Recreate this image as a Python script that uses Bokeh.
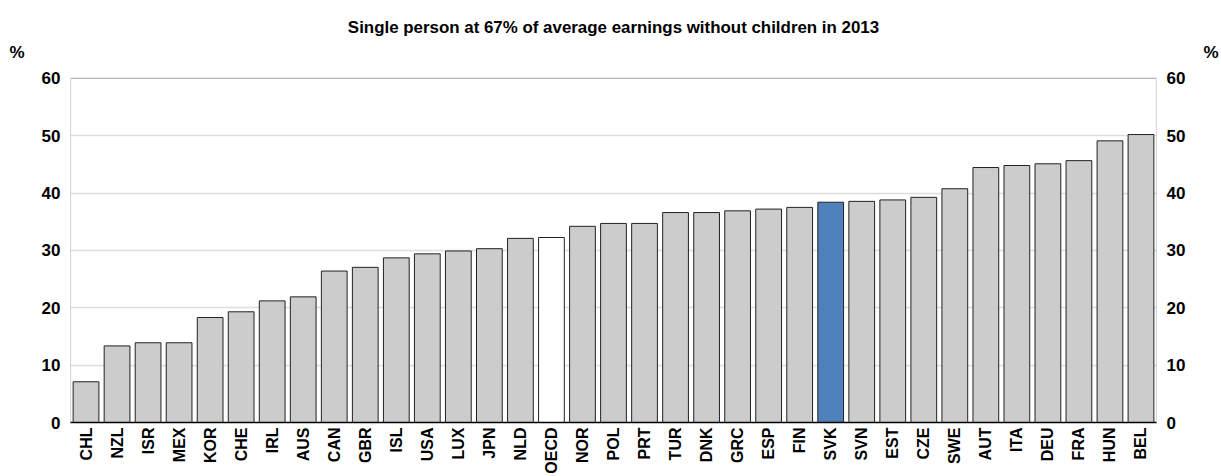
import math
from bokeh.plotting import figure
from bokeh.models import (ColumnDataSource, FactorRange, Range1d, LinearAxis,
                          FixedTicker, BoxAnnotation, CustomJSTickFormatter)
from bokeh.embed import file_html
from bokeh.resources import INLINE

countries = ["CHL", "NZL", "ISR", "MEX", "KOR", "CHE", "IRL", "AUS", "CAN", "GBR",
             "ISL", "USA", "LUX", "JPN", "NLD", "OECD", "NOR", "POL", "PRT", "TUR",
             "DNK", "GRC", "ESP", "FIN", "SVK", "SVN", "EST", "CZE", "SWE", "AUT",
             "ITA", "DEU", "FRA", "HUN", "BEL"]
values = [7.1, 13.35, 13.9, 13.9, 18.3, 19.3, 21.2, 21.9, 26.4, 27.05,
          28.7, 29.4, 29.9, 30.3, 32.1, 32.25, 34.2, 34.7, 34.7, 36.6,
          36.6, 36.9, 37.2, 37.5, 38.4, 38.55, 38.8, 39.25, 40.75, 44.45,
          44.8, 45.1, 45.65, 49.1, 50.2]
highlight = {"SVK": "#4F81BD", "OECD": "#FFFFFF"}
y_ticks = [0, 10, 20, 30, 40, 50, 60]
title_text = "Single person at 67% of average earnings without children in 2013"
unit_label = "%"

FONT = "Liberation Sans"
Y_MAX = 60
# frame pixel geometry
BOX_H = 346            # pixels between 0 and 60
EXTRA_TOP = 34         # frame extends above the 60 line to hold the "%" labels
UNIT_Y = Y_MAX + 26 * Y_MAX / BOX_H     # position of the "%" labels
Y_TOP = Y_MAX + EXTRA_TOP * Y_MAX / BOX_H

colors = [highlight.get(c, "#CCCCCC") for c in countries]
src = ColumnDataSource(dict(x=countries, top=values, color=colors))

p = figure(width=1221, height=476, output_backend="svg", toolbar_location=None,
           x_range=FactorRange(*countries, range_padding=0),
           y_range=Range1d(0, Y_TOP),
           min_border_left=70, min_border_right=59, min_border_top=44,
           min_border_bottom=52)

p.title.text = title_text
p.title.align = "center"
p.title.text_font = FONT
p.title.text_font_size = "16.9px"
p.title.text_font_style = "bold"
p.title.text_color = "black"
p.title.standoff = 16

p.outline_line_color = None
p.xgrid.grid_line_color = None
p.ygrid.grid_line_color = "#DDDDDD"
p.ygrid.grid_line_width = 1.5
p.ygrid.ticker = FixedTicker(ticks=y_ticks[1:-1])

# plot box from 0 to 60
p.add_layout(BoxAnnotation(bottom=0, top=Y_MAX, fill_alpha=0, fill_color=None,
                           line_color="black", line_width=1.2, level="underlay"))

p.vbar(x="x", top="top", width=0.83, source=src, fill_color="color",
       line_color="#222222", line_width=1)

def style_y(ax, standoff, size):
    ax.axis_line_color = None
    ax.major_tick_line_color = None
    ax.minor_tick_line_color = None
    ax.major_tick_out = 0
    ax.major_tick_in = 0
    ax.minor_tick_out = 0
    ax.major_label_text_font = FONT
    ax.major_label_text_font_size = size
    ax.major_label_text_font_style = "bold"
    ax.major_label_text_color = "black"
    ax.major_label_standoff = standoff

# y axes (left and right)
p.yaxis.ticker = FixedTicker(ticks=y_ticks)
style_y(p.yaxis[0], 10, "17px")
right = LinearAxis(ticker=FixedTicker(ticks=y_ticks))
style_y(right, 10, "17px")
p.add_layout(right, "right")

# "%" unit labels above the axes
pct_fmt = CustomJSTickFormatter(code="return '%s';" % unit_label)
left_u = LinearAxis(ticker=FixedTicker(ticks=[UNIT_Y]), formatter=pct_fmt)
style_y(left_u, 14, "17px")
p.add_layout(left_u, "left")
right_u = LinearAxis(ticker=FixedTicker(ticks=[UNIT_Y]), formatter=pct_fmt)
style_y(right_u, 15, "17px")
p.add_layout(right_u, "right")

# x axis
xa = p.xaxis[0]
xa.axis_line_color = "black"
xa.axis_line_width = 1.5
xa.major_tick_line_color = None
xa.minor_tick_line_color = None
xa.major_tick_out = 0
xa.major_tick_in = 0
xa.major_label_orientation = math.pi / 2
xa.major_label_text_font = FONT
xa.major_label_text_font_size = "16px"
xa.major_label_text_font_style = "bold"
xa.major_label_text_color = "black"
xa.major_label_standoff = 5

open("out.html", "w").write(file_html(p, INLINE))
